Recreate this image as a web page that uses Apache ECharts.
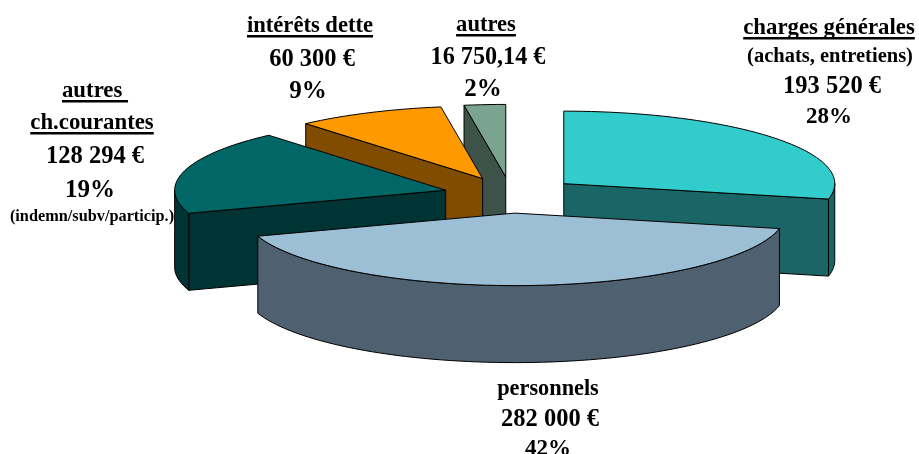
<!DOCTYPE html>
<html>
<head>
<meta charset="utf-8">
<style>html,body{margin:0;padding:0;background:#fff}#c{width:919px;height:454px}</style>
<script src="https://cdn.jsdelivr.net/npm/echarts@6/dist/echarts.min.js"></script>
</head>
<body>
<div id="c"></div>
<script>
// Data
const categories = ['charges générales', 'personnels', 'autres ch.courantes', 'intérêts dette', 'autres'];
const values = [193520, 282000, 128294, 60300, 16750.14];
const topColors = ['#33CCCC', '#9DBFD6', '#006666', '#FF9900', '#7AA391'];
const wallColors = ['#1A6666', '#4F6070', '#003333', '#804C00', '#3D5249'];

// Labels: [text, centre x, baseline y, font size, underlined]
const labelLines = [
  ['charges générales', 829, 35, 22.8, true],
  ['(achats, entretiens)', 830, 62, 20.5, false],
  ['193 520 €', 832, 94, 24.5, false],
  ['28%', 829, 124, 23, false],
  ['personnels', 548, 395, 22.3, false],
  ['282 000 €', 550, 427, 24.5, false],
  ['42%', 548, 456, 23, false],
  ['autres ', 95, 98, 22.8, true],
  ['ch.courantes', 92, 130, 22.8, true],
  ['128 294 €', 95, 164, 24.5, false],
  ['19%', 90, 197, 25, false],
  ['(indemn/subv/particip.)', 92, 221, 16.3, false],
  ['intérêts dette', 310, 33, 22.6, true],
  ['60 300 €', 312, 67, 24.5, false],
  ['9%', 308, 98, 25, false],
  ['autres', 486, 32, 22.6, true],
  ['16 750,14 €', 488, 65, 24.2, false],
  ['2%', 483, 96, 25, false]
];

// Layout of the tilted pie
const CX = 511, CY = 195, RX = 271, RY = 72.5, DEPTH = 77, EXPLODE = 0.25;
const total = values.reduce((a, b) => a + b, 0);
const RAD = Math.PI / 180;

function arcPoints(cx, cy, a0, a1) {
  const pts = [];
  const n = Math.max(2, Math.ceil((a1 - a0) / 2));
  for (let i = 0; i <= n; i++) {
    const a = (a0 + (a1 - a0) * i / n) * RAD;
    pts.push([cx + RX * Math.sin(a), cy - RY * Math.cos(a)]);
  }
  return pts;
}
const down = p => [p[0], p[1] + DEPTH];

function renderSlice(params, api) {
  const i = params.dataIndex;
  let start = 0;
  for (let k = 0; k < i; k++) start += values[k];
  const a0 = start / total * 360;
  const a1 = (start + api.value(0)) / total * 360;
  const mid = (a0 + a1) / 2 * RAD;
  const tx = CX + EXPLODE * RX * Math.sin(mid);
  const ty = CY - EXPLODE * RY * Math.cos(mid);
  const base = Math.round((1 - Math.cos(mid)) * 100);
  const stroke = { stroke: '#000', lineWidth: 1 };
  const children = [];
  let z = base * 10;
  const poly = (points, fill) => children.push({
    type: 'polygon', z2: z++, shape: { points }, style: Object.assign({ fill }, stroke)
  });
  const arc = arcPoints(tx, ty, a0, a1);
  const T = [tx, ty], S = arc[0], E = arc[arc.length - 1];
  if (Math.sin(a0 * RAD) < -1e-6) poly([T, S, down(S), down(T)], wallColors[i]);
  if (Math.sin(a1 * RAD) > 1e-6) poly([T, E, down(E), down(T)], wallColors[i]);
  const w0 = Math.max(a0, 90), w1 = Math.min(a1, 270);
  if (w1 > w0) {
    const w = arcPoints(tx, ty, w0, w1);
    poly(w.concat(w.map(down).reverse()), wallColors[i]);
  }
  poly([T].concat(arc), topColors[i]);
  return { type: 'group', children };
}

const FONT = '"Liberation Serif", "Times New Roman", serif';
const textElements = [];
labelLines.forEach(([text, x, y, size, under]) => {
  const el = {
    type: 'text', x, y: y + Math.round(size * 0.22), z: 10,
    style: { text, fill: '#000', font: 'bold ' + size + 'px ' + FONT, textAlign: 'center', textVerticalAlign: 'bottom' }
  };
  textElements.push(el);
  if (under) {
    const w = echarts.format.getTextRect ? echarts.format.getTextRect(text, el.style.font).width : text.length * size * 0.5;
    textElements.push({
      type: 'rect', z: 10,
      shape: { x: x - w / 2, y: y + 2, width: w, height: 2.5 },
      style: { fill: '#000' }
    });
  }
});

const chart = echarts.init(document.getElementById('c'), null, { renderer: 'canvas' });
chart.setOption({
  animation: false,
  backgroundColor: '#fff',
  graphic: { elements: textElements },
  series: [{
    type: 'custom',
    coordinateSystem: 'none',
    renderItem: renderSlice,
    data: categories.map((name, i) => ({ name, value: [values[i]] }))
  }]
});
</script>
</body>
</html>
